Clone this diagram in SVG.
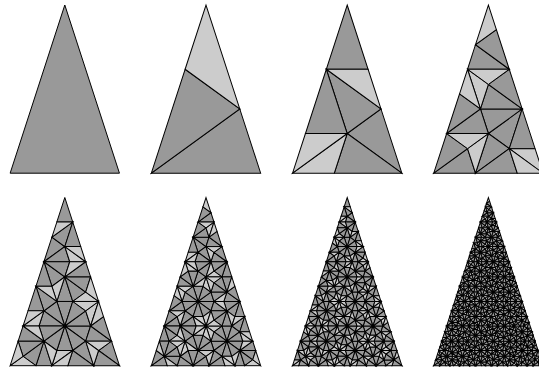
<svg xmlns="http://www.w3.org/2000/svg" width="539" height="368" viewBox="0 0 539 368">
<style>
polygon{stroke:#000;stroke-linejoin:miter}
.dk{fill:#999999}
.lt{fill:#cccccc}
</style>
<defs>
<polygon id="g0" class="dk" points="0,0 -0.5,1.538842 0.5,1.538842"/>
<polygon id="n0" class="lt" points="0,0 -0.809017,0.587785 0.809017,0.587785"/>
<g id="g1"><use href="#g0" transform="matrix(-0.190983,-0.587785,0.587785,-0.190983,-0.5,1.538842)"/><use href="#g0" transform="matrix(0.5,0.363271,0.363271,-0.5,-0.5,1.538842)"/><use href="#n0" transform="matrix(0.190983,0.587785,0.587785,-0.190983,-0.190983,0.587785)"/></g>
<g id="n1"><use href="#g0" transform="matrix(-0.190983,-0.587785,0.587785,-0.190983,-0.809017,0.587785)"/><use href="#n0" transform="matrix(-0.5,-0.363271,0.363271,-0.5,0.190983,0.587785)"/></g>
<g id="g2"><use href="#g1" transform="matrix(-0.190983,-0.587785,0.587785,-0.190983,-0.5,1.538842)"/><use href="#g1" transform="matrix(0.5,0.363271,0.363271,-0.5,-0.5,1.538842)"/><use href="#n1" transform="matrix(0.190983,0.587785,0.587785,-0.190983,-0.190983,0.587785)"/></g>
<g id="n2"><use href="#g1" transform="matrix(-0.190983,-0.587785,0.587785,-0.190983,-0.809017,0.587785)"/><use href="#n1" transform="matrix(-0.5,-0.363271,0.363271,-0.5,0.190983,0.587785)"/></g>
<g id="g3"><use href="#g2" transform="matrix(-0.190983,-0.587785,0.587785,-0.190983,-0.5,1.538842)"/><use href="#g2" transform="matrix(0.5,0.363271,0.363271,-0.5,-0.5,1.538842)"/><use href="#n2" transform="matrix(0.190983,0.587785,0.587785,-0.190983,-0.190983,0.587785)"/></g>
<g id="n3"><use href="#g2" transform="matrix(-0.190983,-0.587785,0.587785,-0.190983,-0.809017,0.587785)"/><use href="#n2" transform="matrix(-0.5,-0.363271,0.363271,-0.5,0.190983,0.587785)"/></g>
<g id="g4"><use href="#g3" transform="matrix(-0.190983,-0.587785,0.587785,-0.190983,-0.5,1.538842)"/><use href="#g3" transform="matrix(0.5,0.363271,0.363271,-0.5,-0.5,1.538842)"/><use href="#n3" transform="matrix(0.190983,0.587785,0.587785,-0.190983,-0.190983,0.587785)"/></g>
<g id="n4"><use href="#g3" transform="matrix(-0.190983,-0.587785,0.587785,-0.190983,-0.809017,0.587785)"/><use href="#n3" transform="matrix(-0.5,-0.363271,0.363271,-0.5,0.190983,0.587785)"/></g>
<g id="g5"><use href="#g4" transform="matrix(-0.190983,-0.587785,0.587785,-0.190983,-0.5,1.538842)"/><use href="#g4" transform="matrix(0.5,0.363271,0.363271,-0.5,-0.5,1.538842)"/><use href="#n4" transform="matrix(0.190983,0.587785,0.587785,-0.190983,-0.190983,0.587785)"/></g>
<g id="n5"><use href="#g4" transform="matrix(-0.190983,-0.587785,0.587785,-0.190983,-0.809017,0.587785)"/><use href="#n4" transform="matrix(-0.5,-0.363271,0.363271,-0.5,0.190983,0.587785)"/></g>
<g id="g6"><use href="#g5" transform="matrix(-0.190983,-0.587785,0.587785,-0.190983,-0.5,1.538842)"/><use href="#g5" transform="matrix(0.5,0.363271,0.363271,-0.5,-0.5,1.538842)"/><use href="#n5" transform="matrix(0.190983,0.587785,0.587785,-0.190983,-0.190983,0.587785)"/></g>
<g id="n6"><use href="#g5" transform="matrix(-0.190983,-0.587785,0.587785,-0.190983,-0.809017,0.587785)"/><use href="#n5" transform="matrix(-0.5,-0.363271,0.363271,-0.5,0.190983,0.587785)"/></g>
<g id="g7"><use href="#g6" transform="matrix(-0.190983,-0.587785,0.587785,-0.190983,-0.5,1.538842)"/><use href="#g6" transform="matrix(0.5,0.363271,0.363271,-0.5,-0.5,1.538842)"/><use href="#n6" transform="matrix(0.190983,0.587785,0.587785,-0.190983,-0.190983,0.587785)"/></g>
</defs>
<rect width="539" height="368" fill="#ffffff"/>
<g id="fig1"><use href="#g0" transform="translate(64.8,5) scale(109.3)" style="stroke-width:0.009149"/></g>
<g id="fig2"><use href="#g1" transform="translate(206,5) scale(109.3)" style="stroke-width:0.014804"/></g>
<g id="fig3"><use href="#g2" transform="translate(347.2,5) scale(109.3)" style="stroke-width:0.023953"/></g>
<g id="fig4"><use href="#g3" transform="translate(488.4,5) scale(109.3)" style="stroke-width:0.038756"/></g>
<g id="fig5"><use href="#g4" transform="translate(64.8,197.5) scale(109.3)" style="stroke-width:0.062709"/></g>
<g id="fig6"><use href="#g5" transform="translate(206,197.5) scale(109.3)" style="stroke-width:0.101465"/></g>
<g id="fig7"><use href="#g6" transform="translate(347.2,197.5) scale(109.3)" style="stroke-width:0.164175"/></g>
<g id="fig8"><use href="#g7" transform="translate(488.4,197.5) scale(109.3)" style="stroke-width:0.265640"/></g>
</svg>
